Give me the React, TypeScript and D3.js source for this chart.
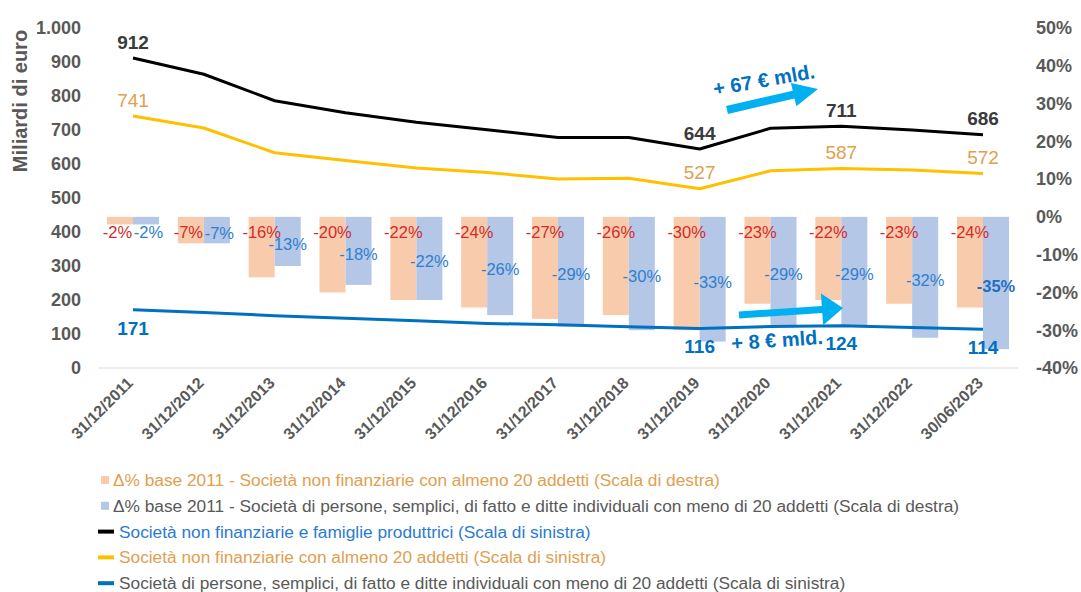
import React from "react";
import * as d3 from "d3";

// Reference dates (year-end, last one is mid-2023)
const categories = [
  "31/12/2011", "31/12/2012", "31/12/2013", "31/12/2014", "31/12/2015",
  "31/12/2016", "31/12/2017", "31/12/2018", "31/12/2019", "31/12/2020",
  "31/12/2021", "31/12/2022", "30/06/2023",
];

// Stock of loans, billions of euro (left scale)
const totalLoans = [912, 864, 786, 751, 723, 701, 678, 678, 644, 705, 711, 700, 686];
const largeFirmsLoans = [741, 706, 633, 610, 588, 575, 556, 558, 527, 580, 587, 582, 572];
const smallFirmsLoans = [171, 163, 154, 146, 139, 131, 127, 121, 116, 122, 124, 119, 114];

// % change vs 2011 (right scale)
const largeFirmsDelta = [-2, -7, -16, -20, -22, -24, -27, -26, -30, -23, -22, -23, -24];
const smallFirmsDelta = [-2, -7, -13, -18, -22, -26, -29, -30, -33, -29, -29, -32, -35];

// Which points get a value label
const totalLabelIdx = [0, 8, 10, 12];
const largeLabelIdx = [0, 8, 10, 12];
const smallLabelIdx = [0, 8, 10, 12];

const leftTicks = [0, 100, 200, 300, 400, 500, 600, 700, 800, 900, 1000];
const rightTicks = [-40, -30, -20, -10, 0, 10, 20, 30, 40, 50];

const legendItems = [
  { kind: "rect", color: "#F8CBAD", text: "Δ% base 2011 - Società non finanziarie con almeno 20 addetti (Scala di destra)", textColor: "#DFA050" },
  { kind: "rect", color: "#B4C7E7", text: "Δ% base 2011 - Società di persone, semplici, di fatto e ditte individuali con meno di 20 addetti (Scala di destra)", textColor: "#595959" },
  { kind: "line", color: "#000000", text: "Società non finanziarie e famiglie produttrici (Scala di sinistra)", textColor: "#2A7BD0" },
  { kind: "line", color: "#FFC000", text: "Società non finanziarie con almeno 20 addetti (Scala di sinistra)", textColor: "#DFA050" },
  { kind: "line", color: "#0070C0", text: "Società di persone, semplici, di fatto e ditte individuali con meno di 20 addetti  (Scala di sinistra)", textColor: "#595959" },
];

const FONT = "'Liberation Sans', Arial, Helvetica, sans-serif";
const W = 1081;
const H = 592;

function Arrow({ x1, y1, x2, y2, shaft, headLen, headHalf, color }) {
  const len = Math.hypot(x2 - x1, y2 - y1);
  const ang = (Math.atan2(y2 - y1, x2 - x1) * 180) / Math.PI;
  const s = shaft / 2;
  const b = len - headLen;
  const pts = [
    [0, -s], [b, -s], [b, -headHalf], [len, 0], [b, headHalf], [b, s], [0, s],
  ];
  return (
    <polygon
      transform={`translate(${x1},${y1}) rotate(${ang})`}
      points={pts.map((p) => p.join(",")).join(" ")}
      fill={color}
    />
  );
}

export default function App() {
  const x = d3.scaleBand().domain(categories).range([97.6, 1018.4]).paddingInner(0.265).paddingOuter(0.1325);
  const xSub = d3.scaleBand().domain(["large", "small"]).range([0, x.bandwidth()]);
  const cx = (c) => x(c) + x.bandwidth() / 2;
  const yL = d3.scaleLinear().domain([0, 1000]).range([368, 28]);
  const yR = d3.scaleLinear().domain([-40, 50]).range([368, 28]);
  const fmtLeft = (v) => d3.format(",")(v).replace(/,/g, ".");

  const line = (vals) =>
    d3.line().x((_, i) => cx(categories[i])).y((d) => yL(d)).curve(d3.curveLinear)(vals);

  const zero = yR(0);

  return (
    <svg width={W} height={H} style={{ position: "absolute", left: 0, top: 0, background: "#fff" }} fontFamily={FONT}>
      <rect width={W} height={H} fill="#fff" />

      {/* baseline */}
      <line x1={98} x2={1018} y1={yL(0)} y2={yL(0)} stroke="#D9D9D9" strokeWidth={1} />

      {/* left axis */}
      <text transform={`translate(27,101) rotate(-90)`} textAnchor="middle" fontSize={20} fontWeight="bold" fill="#595959">
        Miliardi di euro
      </text>
      {leftTicks.map((t) => (
        <text key={t} x={81} y={yL(t)} dy="0.35em" textAnchor="end" fontSize={18} fontWeight="bold" fill="#595959">
          {fmtLeft(t)}
        </text>
      ))}

      {/* right axis */}
      {rightTicks.map((t) => (
        <text key={t} x={1036} y={yR(t)} dy="0.35em" textAnchor="start" fontSize={18} fontWeight="bold" fill="#595959">
          {`${t}%`}
        </text>
      ))}

      {/* x labels */}
      {categories.map((c) => (
        <text key={c} transform={`translate(${cx(c) + 1},${384}) rotate(-45)`} textAnchor="end" fontSize={16} fontWeight="bold" fill="#595959">
          {c}
        </text>
      ))}

      {/* bars */}
      {categories.map((c, i) => (
        <g key={c} transform={`translate(${x(c)},0)`}>
          <rect x={xSub("large")} width={xSub.bandwidth()} y={zero} height={yR(largeFirmsDelta[i]) - zero} fill="#F8CBAD" />
          <rect x={xSub("small")} width={xSub.bandwidth()} y={zero} height={yR(smallFirmsDelta[i]) - zero} fill="#B4C7E7" />
        </g>
      ))}

      {/* lines */}
      <path d={line(totalLoans)} fill="none" stroke="#000" strokeWidth={3} strokeLinejoin="round" />
      <path d={line(largeFirmsLoans)} fill="none" stroke="#FFC000" strokeWidth={3} strokeLinejoin="round" />
      <path d={line(smallFirmsLoans)} fill="none" stroke="#0070C0" strokeWidth={3} strokeLinejoin="round" />

      {/* bar labels */}
      {categories.map((c, i) => {
        const lx = x(c) + xSub("large") + xSub.bandwidth() / 2;
        const sx = x(c) + xSub("small") + xSub.bandwidth() / 2;
        const mid = (zero + yR(smallFirmsDelta[i])) / 2;
        const minY = zero + 15;
        const sy = Math.max(mid + 3, minY);
        // labels sharing the same row are pushed slightly apart
        const nudge = sy - minY < 8 ? 2.5 : 0;
        const last = i === categories.length - 1;
        return (
          <g key={c} fontSize={16.5}>
            <text x={lx - nudge} y={minY} dy="0.35em" textAnchor="middle" fill="#D22B2B">{`${largeFirmsDelta[i]}%`}</text>
            <text x={sx + nudge} y={sy} dy="0.35em" textAnchor="middle" fill={last ? "#1F6FC0" : "#2F7FCC"} fontWeight={last ? "bold" : "normal"}>
              {`${smallFirmsDelta[i]}%`}
            </text>
          </g>
        );
      })}

      {/* line value labels */}
      {totalLabelIdx.map((i) => (
        <text key={"t" + i} x={cx(categories[i])} y={yL(totalLoans[i]) - 16} dy="0.35em" textAnchor="middle" fontSize={19} fontWeight="bold" fill="#3A3A3A">
          {totalLoans[i]}
        </text>
      ))}
      {largeLabelIdx.map((i) => (
        <text key={"l" + i} x={cx(categories[i])} y={yL(largeFirmsLoans[i]) - 16} dy="0.35em" textAnchor="middle" fontSize={19} fill="#DFA050">
          {largeFirmsLoans[i]}
        </text>
      ))}
      {smallLabelIdx.map((i) => (
        <text key={"s" + i} x={cx(categories[i])} y={yL(smallFirmsLoans[i]) + 18} dy="0.35em" textAnchor="middle" fontSize={19} fontWeight="bold" fill="#0070C0">
          {smallFirmsLoans[i]}
        </text>
      ))}

      {/* annotations */}
      <Arrow x1={727} y1={110} x2={818} y2={89} shaft={8} headLen={25} headHalf={12} color="#00B0F0" />
      <text transform="translate(764,80) rotate(-10)" textAnchor="middle" dy="0.35em" fontSize={20} fontWeight="bold" fill="#0070C0">
        + 67 € mld.
      </text>
      <Arrow x1={739} y1={315} x2={843} y2={308} shaft={7} headLen={21} headHalf={16} color="#00B0F0" />
      <text transform="translate(777,340) rotate(-4)" textAnchor="middle" dy="0.35em" fontSize={20} fontWeight="bold" fill="#0070C0">
        + 8 € mld.
      </text>

      {/* legend */}
      {legendItems.map((it, i) => {
        const yy = 480 + i * 25.8;
        return (
          <g key={i}>
            {it.kind === "rect" ? (
              <rect x={101} y={yy - 4} width={8} height={8} fill={it.color} />
            ) : (
              <rect x={98} y={yy - 2} width={16} height={4} fill={it.color} />
            )}
            <text x={it.kind === "rect" ? 113 : 119} y={yy} dy="0.35em" fontSize={17.3} fill={it.textColor}>
              {it.text}
            </text>
          </g>
        );
      })}
    </svg>
  );
}
